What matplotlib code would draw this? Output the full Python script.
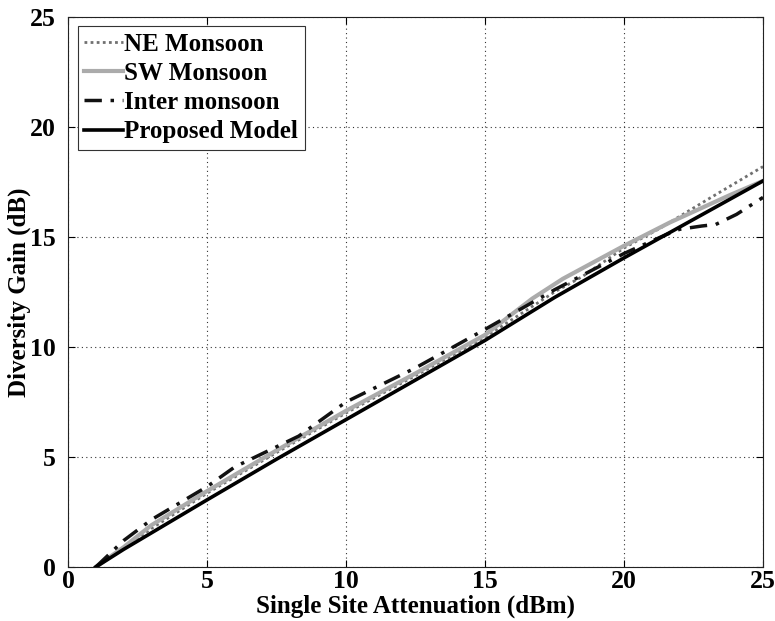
import matplotlib
matplotlib.use("Agg")
import matplotlib.pyplot as plt

# Data
ne_x = [1, 2, 3, 5, 7.5, 10, 12.5, 15, 17.5, 18.5, 20, 21.3, 23, 25]
ne_y = [0, 0.85, 1.75, 3.35, 5.2, 7.0, 8.7, 10.45, 12.5, 13.2, 14.5, 15.4, 16.7, 18.2]

sw_x = [1, 2, 3, 5, 7.5, 10, 12.5, 15, 16.7, 17.8, 20, 21.65, 23.8, 25]
sw_y = [0, 0.9, 1.9, 3.45, 5.3, 7.1, 8.8, 10.55, 12.2, 13.1, 14.6, 15.66, 16.9, 17.55]

inter_x = [1, 2, 3, 5, 6, 8.3, 10, 12.5, 15, 17.5, 20, 21.5, 22, 22.8, 23.3, 24.05, 25]
inter_y = [0, 1.2, 2.15, 3.65, 4.55, 5.95, 7.5, 9.05, 10.8, 12.6, 14.25, 15.1, 15.35, 15.5, 15.57, 16.03, 16.8]

prop_x = [1, 2, 3, 5, 7.5, 10, 12.5, 15, 17.5, 20, 22.5, 25]
prop_y = [0, 0.8, 1.55, 3.05, 4.9, 6.7, 8.5, 10.3, 12.25, 14.05, 15.8, 17.55]

xticks = [0, 5, 10, 15, 20, 25]
yticks = [0, 5, 10, 15, 20, 25]
labels = ["NE Monsoon", "SW Monsoon", "Inter monsoon", "Proposed Model"]

plt.rcParams['font.family'] = ['Liberation Serif', 'DejaVu Serif']
plt.rcParams['font.weight'] = 'bold'

fig = plt.figure(figsize=(7.75, 6.21), dpi=100)
ax = fig.add_axes([68/775, 54/621, 695/775, 550/621])

ax.plot(ne_x, ne_y, color='#707070', lw=2.0, linestyle=(0, (1, 1.2)), label=labels[0])
ax.plot(sw_x, sw_y, color='#ababab', lw=3.0, linestyle='-', label=labels[1])
ax.plot(inter_x, inter_y, color='#111111', lw=2.5, linestyle=(0, (5, 2.5, 1, 2.5)), label=labels[2])
ax.plot(prop_x, prop_y, color='black', lw=2.6, linestyle='-', label=labels[3])

ax.set_xlim(0, 25)
ax.set_ylim(0, 25)
ax.set_xticks(xticks)
ax.set_yticks(yticks)
ax.tick_params(direction='in', length=5, width=0.8, labelsize=18.5, top=True, right=True)
ax.tick_params(axis='x', pad=2)
ax.tick_params(axis='y', pad=9)
for lab in ax.get_xticklabels() + ax.get_yticklabels():
    lab.set_fontweight('bold')
ax.grid(True, color='#333333', linestyle=(0, (1, 3)), linewidth=0.8)
for s in ax.spines.values():
    s.set_linewidth(0.8)
    s.set_color('#222222')

ax.set_xlabel("Single Site Attenuation (dBm)", fontsize=18, fontweight='bold', labelpad=1.5)
ax.set_ylabel("Diversity Gain (dB)", fontsize=18, fontweight='bold', labelpad=-1)

leg = ax.legend(loc='upper left', handlelength=1.55, handletextpad=0.08,
                labelspacing=0.25, borderpad=0.25, borderaxespad=0.38, fancybox=False,
                framealpha=1, edgecolor='#333333', prop={'weight': 'bold', 'size': 18})
leg.get_frame().set_linewidth(0.8)

fig.savefig("out.png", dpi=100)
